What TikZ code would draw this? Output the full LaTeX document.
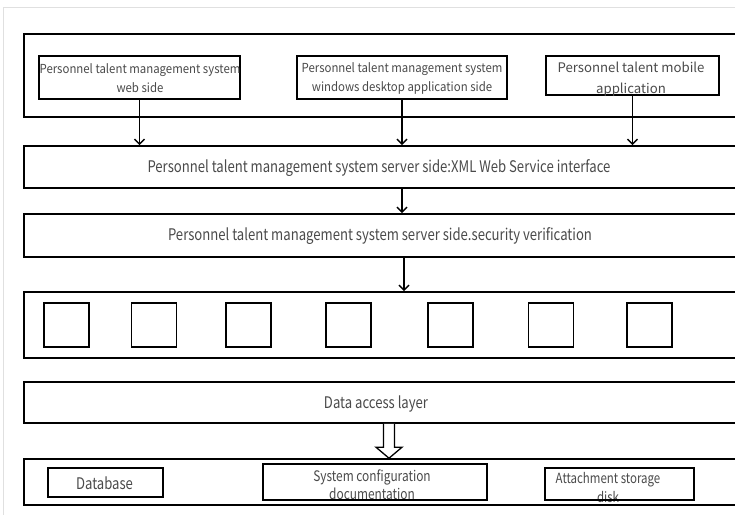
\documentclass[tikz,border=0pt]{standalone}
\usepackage{fontspec}
\setmainfont{Noto Sans CJK SC}
\newfontfamily\condfont[FakeStretch=0.82]{Noto Sans CJK SC}
\newfontfamily\topfont[FakeStretch=0.92]{Noto Sans CJK SC}
\usetikzlibrary{calc,arrows.meta}
\definecolor{txt}{HTML}{4A4A4A}
\tikzset{
  box/.style={draw=black, line width=1.6pt, inner sep=0pt},
  toptext/.style={text=txt, align=center, font=\topfont\fontsize{12.4}{19}\selectfont},
  midtext/.style={text=txt, align=center, font=\condfont\fontsize{16}{18}\selectfont},
  bottext/.style={text=txt, align=center, font=\condfont\fontsize{14.5}{18}\selectfont},
  arr/.style={line width=1.5pt, -{Straight Barb[length=5pt,width=10pt]}},
  hollow/.style={draw=black, line width=1.3pt, fill=white, line join=miter},
}
\begin{document}
\begin{tikzpicture}[x=1pt,y=-1pt]
\useasboundingbox (0,0) rectangle (735,515);
\clip (0,0) rectangle (735,515);
\fill[white] (0,0) rectangle (735,515);
\draw[black!12, line width=1pt] (3,515) -- (3,7) -- (735,7);

% client layer
\node[box, minimum width=713pt, minimum height=83pt] (top) at (380.5,75.5) {};
\node[box, minimum width=201pt, minimum height=43pt] (b1) at (139.5,77.5) {};
\node[toptext] (t1) at (140,78.5) {Personnel talent management system\\web side};
\node[box, minimum width=210pt, minimum height=43pt] (b2) at (402,77.5) {};
\node[toptext] (t2) at (402,78.5) {Personnel talent management system\\windows desktop application side};
\node[box, minimum width=173pt, minimum height=39pt] (b3) at (632.5,75.5) {};
\node[text=txt, align=center, font=\fontsize{13.2}{21}\selectfont] (t3) at (631,79.5) {Personnel talent mobile\\application};

% server layers
\node[box, minimum width=713pt, minimum height=42pt] (s1) at (380.5,167) {};
\node[midtext] (s1t) at (379,168) {Personnel talent management system server side:XML Web Service interface};
\node[box, minimum width=713pt, minimum height=43pt] (s2) at (380.5,235.5) {};
\node[midtext] (s2t) at (380,236) {Personnel talent management system server side.security verification};

% module layer
\node[box, minimum width=713pt, minimum height=66pt] (mod) at (380.5,325) {};
\foreach \i/\x in {1/66.5,2/154,3/248.5,4/348.5,5/450.5,6/551,7/649.5}
  \node[box, minimum width=45pt, minimum height=44pt] (m\i) at (\x,325) {};

% data access layer
\node[box, minimum width=713pt, minimum height=41pt] (dal) at (380.5,402.5) {};
\node[midtext] (dalt) at (376,404) {Data access layer};

% storage layer
\node[box, minimum width=713pt, minimum height=46pt] (bot) at (380.5,482) {};
\node[bottext, font=\condfont\fontsize{16}{18}\selectfont] (dbt) at (104.5,483) {Database};
\node[box, minimum width=115pt, minimum height=29pt] (db) at (105.5,482.5) {};
\node[bottext] (sct) at (372,485) {System configuration\\documentation};
\node[box, minimum width=224pt, minimum height=36pt] (sc) at (375,482) {};
\node[bottext, font=\condfont\fontsize{14}{19}\selectfont] (att) at (608,488) {Attachment storage\\disk};
\node[box, minimum width=149pt, minimum height=32pt] (at) at (619.5,484) {};

% connectors
\draw[arr] (b1.south) -- (b1.south |- s1.north);
\draw[arr] (b2.south) -- (b2.south |- s1.north);
\draw[arr] (b3.south) -- (b3.south |- s1.north);
\draw[arr] (s1.south -| b2.south) -- (s2.north -| b2.south);
\coordinate (c1) at (404,0);
\draw[arr] (s2.south -| c1) -- (mod.north -| c1);

% hollow arrow
\coordinate (c2) at (389,0);
\coordinate (hs) at (dal.south -| c2);
\coordinate (he) at (bot.north -| c2);
\draw[hollow] ($(hs)+(-5.5,0)$) -- ($(he)+(-5.5,-11)$) -- ($(he)+(-13,-11)$) -- (he)
  -- ($(he)+(13,-11)$) -- ($(he)+(5.5,-11)$) -- ($(hs)+(5.5,0)$);
\end{tikzpicture}
\end{document}
